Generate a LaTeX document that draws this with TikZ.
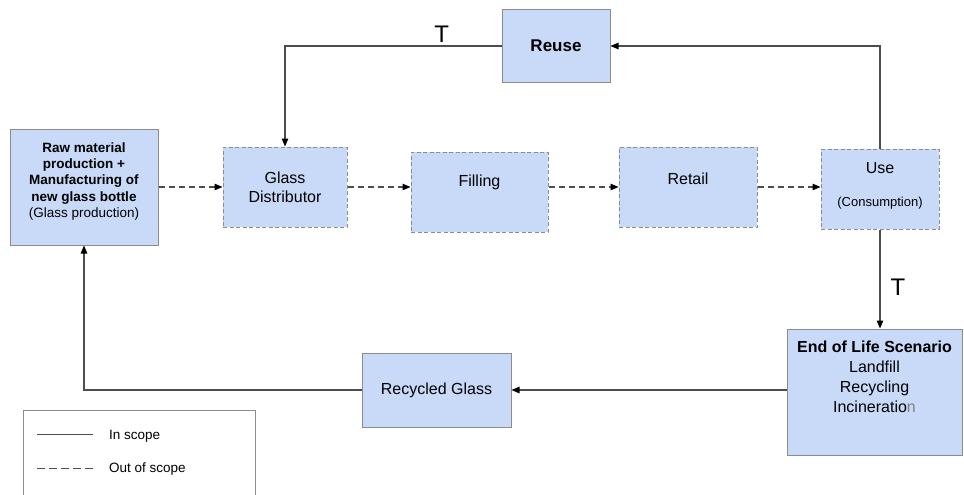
\documentclass[tikz,border=0pt]{standalone}
\usepackage{fontspec}
\setmainfont{Liberation Sans}
\usetikzlibrary{arrows.meta,calc}
\definecolor{boxfill}{HTML}{C9DAF8}
\definecolor{boxline}{HTML}{8C8C8C}
\definecolor{conn}{HTML}{4D4D4D}
\begin{document}
\begin{tikzpicture}[x=1pt,y=-1pt,
  solidbox/.style={draw=boxline,fill=boxfill,line width=1pt,inner sep=0pt,align=center,font=\fontsize{16}{19}\selectfont},
  dashbox/.style={solidbox,dash pattern=on 4pt off 2.5pt},
  tip/.style={-{Triangle[length=8pt,width=6.5pt,color=black]}},
  inscope/.style={draw=conn,line width=1.1pt},
  outscope/.style={draw=conn,line width=1.1pt,dash pattern=on 6pt off 4pt},
  tlabel/.style={font=\fontsize{24}{24}\selectfont,inner sep=0pt},
  legtext/.style={font=\fontsize{13.5}{16}\selectfont,anchor=west,inner sep=0pt}]
\clip (0,0) rectangle (964,495);
\fill[white] (0,0) rectangle (964,495);
% boxes
\node[solidbox,minimum width=148pt,minimum height=116pt] (raw) at (84,187) {};
\node[font=\fontsize{13.5}{16.2}\selectfont,align=center] at (84,181.5) {\textbf{Raw material}\\\textbf{production +}\\\textbf{Manufacturing of}\\\textbf{new glass bottle}\\(Glass production)};
\node[dashbox,minimum width=124pt,minimum height=80pt] (gd) at (285,187) {Glass\\Distributor};
\node[dashbox,minimum width=137pt,minimum height=80pt] (fill) at (479.5,192) {};
\node[font=\fontsize{16}{19}\selectfont] at (479.5,182) {Filling};
\node[dashbox,minimum width=138pt,minimum height=80pt] (retail) at (688,187) {};
\node[font=\fontsize{16}{19}\selectfont] at (688,179) {Retail};
\node[dashbox,minimum width=118pt,minimum height=80pt] (use) at (880,189) {};
\node[font=\fontsize{16}{19}\selectfont] at (880,168) {Use};
\node[font=\fontsize{13}{16}\selectfont] at (880,203.5) {(Consumption)};
\node[solidbox,minimum width=108pt,minimum height=73pt,font=\fontsize{17}{20}\selectfont\bfseries] (reuse) at (556,46) {Reuse};
\node[solidbox,minimum width=175pt,minimum height=126pt] (eol) at (874.5,392) {};
\node[font=\fontsize{16}{20}\selectfont,align=center] at (874.5,377) {\textbf{End of Life Scenario}\\Landfill\\Recycling\\Incineratio{\color{gray}n}};
\node[solidbox,minimum width=149pt,minimum height=74pt] (rec) at (436.5,390) {Recycled Glass};
% connectors
\draw[outscope,tip] (raw.east) -- (gd.west);
\draw[outscope,tip] (gd.east) -- (gd.east -| fill.west);
\draw[outscope,tip] (retail.west -| fill.east) -- (retail.west);
\draw[outscope,tip] (retail.east) -- (retail.east -| use.west);
\draw[inscope,tip] (use.north) |- (reuse.east);
\draw[inscope,tip] (reuse.west) -| (gd.north);
\draw[inscope,tip] (use.south) -- (use.south |- eol.north);
\draw[inscope,tip] (rec.east -| eol.west) -- (rec.east);
\draw[inscope,tip] (rec.west) -| (raw.south);
\node[tlabel] (t1) at (441.7,34) {T};
\node[tlabel] (t2) at (898,287) {T};
% legend
\node[draw=boxline,line width=1pt,minimum width=232pt,minimum height=110pt,anchor=north west,inner sep=0pt] (legend) at (23,409.5) {};
\coordinate (l1a) at (37,434);
\coordinate (l1b) at (93,434);
\coordinate (l2a) at (37,468);
\coordinate (l2b) at (93,468);
\draw[draw=conn,line width=0.8pt] (l1a) -- (l1b);
\draw[draw=conn,line width=0.8pt,dash pattern=on 8pt off 4pt] (l2a) -- (l2b);
\node[legtext] (lt1) at (109,436) {In scope};
\node[legtext] (lt2) at (109,469) {Out of scope};
\end{tikzpicture}
\end{document}
